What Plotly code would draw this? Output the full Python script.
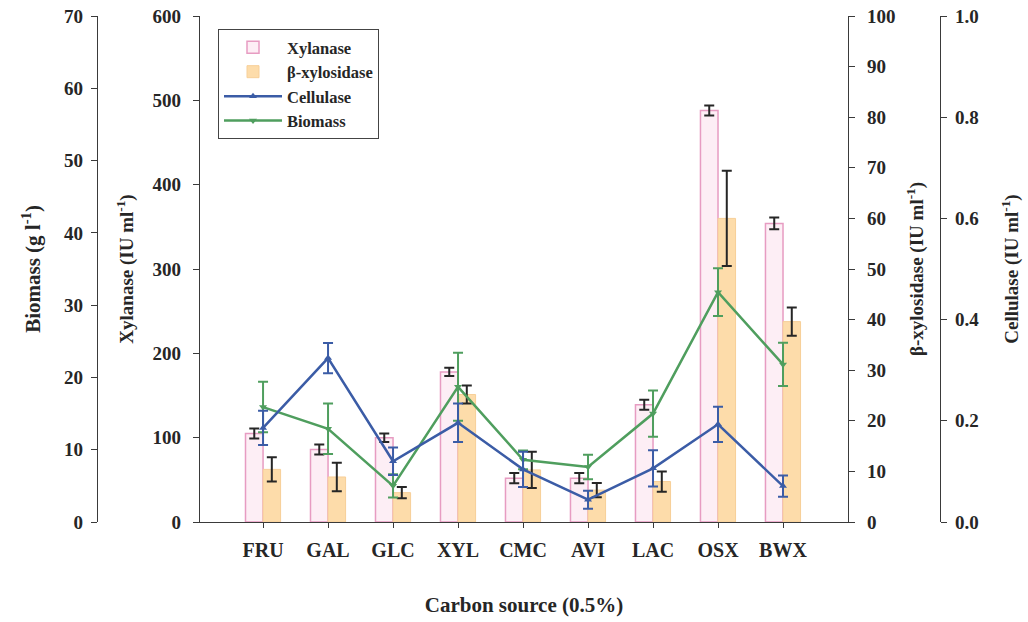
import plotly.graph_objects as go

# Carbon sources tested (0.5%)
sources = ["FRU", "GAL", "GLC", "XYL", "CMC", "AVI", "LAC", "OSX", "BWX"]

# Xylanase activity (IU/ml) and standard deviation
xylanase = [105, 86, 100, 178, 52, 52, 139, 488, 354]
xylanase_sd = [6, 6, 5, 5, 6, 6, 6, 6, 7]

# beta-xylosidase activity (IU/ml) and standard deviation
bxyl = [10.4, 8.9, 5.8, 25.2, 10.3, 6.3, 8.0, 60.0, 39.6]
bxyl_sd = [2.4, 2.8, 1.1, 1.8, 3.6, 1.4, 2.0, 9.4, 2.8]

# Cellulase activity (IU/ml) and standard deviation
cellulase = [0.186, 0.324, 0.120, 0.196, 0.104, 0.044, 0.106, 0.193, 0.071]
cellulase_sd = [0.034, 0.030, 0.027, 0.038, 0.035, 0.018, 0.036, 0.035, 0.021]

# Biomass (g/l) and standard deviation
biomass = [15.9, 12.9, 5.0, 18.7, 8.6, 7.6, 15.0, 31.8, 21.8]
biomass_sd = [3.5, 3.5, 1.6, 4.7, 1.3, 1.7, 3.2, 3.3, 3.0]

SERIF = "Liberation Serif, Times New Roman, serif"
INK = "#262626"
AXIS = "#3a3a3a"
BLUE = "#3b5ca6"
GREEN = "#4f9e5e"

W, H = 1028, 622
X0, X1 = 200, 848          # plot area, px
YT, YB = 16, 522
dom_x = [X0 / W, X1 / W]
dom_y = [(H - YB) / H, (H - YT) / H]

bar_w = 0.27

fig = go.Figure()

fig.add_trace(go.Bar(
    x=sources, y=xylanase, name="Xylanase", yaxis="y",
    width=bar_w, offset=-bar_w,
    marker=dict(color="#fdeef5", line=dict(color="#e79cc2", width=1.5)),
    error_y=dict(type="data", array=xylanase_sd, color=INK, thickness=2, width=5),
))
fig.add_trace(go.Bar(
    x=sources, y=bxyl, name="β-xylosidase", yaxis="y2",
    width=bar_w, offset=0,
    marker=dict(color="#fddcaa", line=dict(color="#f7cf98", width=1)),
    error_y=dict(type="data", array=bxyl_sd, color=INK, thickness=2, width=5),
))
fig.add_trace(go.Scatter(
    x=sources, y=cellulase, name="Cellulase", yaxis="y4",
    mode="lines+markers",
    line=dict(color=BLUE, width=2.5),
    marker=dict(symbol="triangle-up", size=7, color=BLUE),
    error_y=dict(type="data", array=cellulase_sd, color=BLUE, thickness=2, width=5),
))
fig.add_trace(go.Scatter(
    x=sources, y=biomass, name="Biomass", yaxis="y3",
    mode="lines+markers",
    line=dict(color=GREEN, width=2.5),
    marker=dict(symbol="triangle-down", size=7, color=GREEN),
    error_y=dict(type="data", array=biomass_sd, color=GREEN, thickness=2, width=5),
))

tick_font = dict(family=SERIF, size=19, color=INK, weight=700)
title_font = dict(family=SERIF, size=19, color=INK, weight=700)

common_y = dict(
    showgrid=False, zeroline=False, showline=True, linecolor=AXIS, linewidth=1.2,
    ticks="outside", ticklen=6, tickcolor=AXIS, tickfont=tick_font,
    automargin=False, domain=dom_y,
)

fig.update_layout(
    width=W, height=H,
    margin=dict(l=0, r=0, t=0, b=0),
    paper_bgcolor="white", plot_bgcolor="white",
    showlegend=True,
    legend=dict(
        x=218 / W, y=1 - 29 / H, xanchor="left", yanchor="top",
        bgcolor="white", bordercolor="#444", borderwidth=1,
        font=dict(family=SERIF, size=16.5, color=INK, weight=700),
        itemwidth=58, tracegroupgap=0,
    ),
    xaxis=dict(
        domain=dom_x, type="category", range=[-0.97, 9.0],
        showgrid=False, zeroline=False, showline=True, linecolor=AXIS, linewidth=1.2,
        ticks="outside", ticklen=5, tickcolor=AXIS,
        tickfont=dict(family=SERIF, size=20, color=INK, weight=700),
        ticklabelstandoff=5,
        title=dict(text="Carbon source (0.5%)", font=dict(family=SERIF, size=21, color=INK, weight=700),
                   standoff=37),
        automargin=False, anchor="y",
    ),
    yaxis=dict(
        **common_y, range=[0, 600], dtick=100, side="left", anchor="x",
        ticklabelstandoff=8,
        title=dict(text="Xylanase (IU ml<sup>-1</sup>)", font=title_font, standoff=13),
    ),
    yaxis2=dict(
        **common_y, range=[0, 100], dtick=10, side="right", overlaying="y", anchor="x",
        ticklabelstandoff=8,
        title=dict(text="β-xylosidase (IU ml<sup>-1</sup>)", font=title_font, standoff=15),
    ),
    yaxis3=dict(
        **common_y, range=[0, 70], dtick=10, side="left", overlaying="y",
        anchor="free", position=97 / W, ticklabelstandoff=4,
        title=dict(text="Biomass (g l<sup>-1</sup>)",
                   font=dict(family=SERIF, size=21, color=INK, weight=700), standoff=16),
    ),
    yaxis4=dict(
        **common_y, range=[0, 1.0], dtick=0.2, tickformat=".1f", side="right", overlaying="y",
        anchor="free", position=940 / W, ticklabelstandoff=4,
        title=dict(text="Cellulase (IU ml<sup>-1</sup>)", font=title_font, standoff=26),
    ),
)

fig.write_html("out.html")
